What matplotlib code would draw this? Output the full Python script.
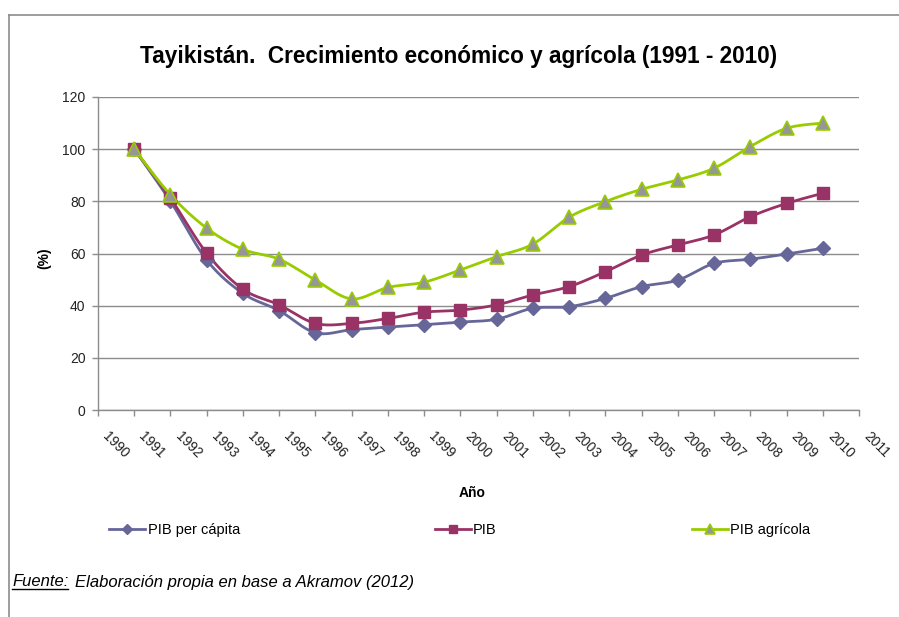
import numpy as np
import matplotlib
matplotlib.use("Agg")
import matplotlib.pyplot as plt
from matplotlib import font_manager
from matplotlib.lines import Line2D
from matplotlib.transforms import ScaledTranslation

years = [1991, 1992, 1993, 1994, 1995, 1996, 1997, 1998, 1999, 2000,
         2001, 2002, 2003, 2004, 2005, 2006, 2007, 2008, 2009, 2010]
pib_pc = [100, 80, 57.5, 44.7, 38.1, 29.6, 30.8, 31.8, 32.7, 33.7,
          34.8, 39.0, 39.6, 42.8, 47.3, 49.8, 56.2, 57.8, 59.8, 62.0]
pib = [100, 81.2, 60.1, 46.3, 40.3, 33.2, 33.2, 35.1, 37.5, 38.3,
       40.3, 44.1, 47.3, 53.0, 59.4, 63.3, 67.1, 74.1, 79.2, 83.1]
pib_agr = [100, 82.5, 69.7, 61.6, 57.8, 49.8, 42.6, 47.0, 49.0, 53.7,
           58.8, 63.6, 73.9, 79.9, 84.6, 88.2, 92.7, 101, 108, 110]
series_names = ["PIB per cápita", "PIB", "PIB agrícola"]
xtick_years = list(range(1990, 2012))
yticks = [0, 20, 40, 60, 80, 100, 120]

title = "Tayikistán.  Crecimiento económico y agrícola (1991 - 2010)"

names = {f.name for f in font_manager.fontManager.ttflist}
NARROW = "Liberation Sans Narrow" if "Liberation Sans Narrow" in names else "Liberation Sans"
SANS = "Liberation Sans"
plt.rcParams["font.family"] = [SANS, "DejaVu Sans"]

W, H, DPI = 899, 617, 100
fig = plt.figure(figsize=(W / DPI, H / DPI), dpi=DPI)

# outer chart border (top and left visible)
fig.add_artist(Line2D([9 / W, 9 / W], [0, 1 - 15 / H], color="#8c8c8c", lw=1.2))
fig.add_artist(Line2D([9 / W, 1], [1 - 15 / H, 1 - 15 / H], color="#8c8c8c", lw=1.2))

L, R, T, B = 98, 859, 97, 410
ax = fig.add_axes([L / W, 1 - B / H, (R - L) / W, (B - T) / H])


def smooth(x, y, n=30):
    x = np.asarray(x, float)
    y = np.asarray(y, float)
    xp = np.concatenate([[x[0]], x, [x[-1]]])
    yp = np.concatenate([[y[0]], y, [y[-1]]])
    xs, ys = [], []
    t = np.linspace(0, 1, n)
    for i in range(len(x) - 1):
        p0 = np.array([xp[i + 1], yp[i + 1]])
        p3 = np.array([xp[i + 2], yp[i + 2]])
        c1 = p0 + (np.array([xp[i + 2], yp[i + 2]]) - np.array([xp[i], yp[i]])) / 6
        c2 = p3 - (np.array([xp[i + 3], yp[i + 3]]) - np.array([xp[i + 1], yp[i + 1]])) / 6
        pts = ((1 - t) ** 3)[:, None] * p0 + (3 * (1 - t) ** 2 * t)[:, None] * c1 \
            + (3 * (1 - t) * t ** 2)[:, None] * c2 + (t ** 3)[:, None] * p3
        xs.append(pts[:, 0])
        ys.append(pts[:, 1])
    return np.concatenate(xs), np.concatenate(ys)


styles = [
    dict(color="#666699", marker="D", mfc="#666699", mec="#666699", ms=7.5),
    dict(color="#993366", marker="s", mfc="#993366", mec="#993366", ms=8.3),
    dict(color="#99CC00", marker="^", mfc="#969696", mec="#99CC00", ms=10, mew=1.2),
]
handles = []
for vals, st, name in zip([pib_pc, pib, pib_agr], styles, series_names):
    sx, sy = smooth(years, vals)
    ax.plot(sx, sy, color=st["color"], lw=2.0, zorder=3, solid_capstyle="round")
    ax.plot(years, vals, ls="none", marker=st["marker"], mfc=st["mfc"],
            mec=st["mec"], ms=st["ms"], mew=st.get("mew", 1.0), zorder=4)
    handles.append(Line2D([], [], color=st["color"], lw=2.0, marker=st["marker"],
                          mfc=st["mfc"], mec=st["mec"], ms=st["ms"] * 0.7,
                          mew=st.get("mew", 1.0), label=name))

ax.set_xlim(1990, 2011)
ax.set_ylim(0, 120)
ax.set_yticks(yticks)
ax.set_xticks(xtick_years)
ax.set_xticklabels([str(y) for y in xtick_years])
ax.grid(axis="y", color="#8c8c8c", lw=1.0)
ax.set_axisbelow(True)
for s in ["top", "right"]:
    ax.spines[s].set_visible(False)
for s in ["left", "bottom"]:
    ax.spines[s].set_color("#8c8c8c")
    ax.spines[s].set_linewidth(1.0)
ax.tick_params(axis="both", direction="out", length=4, width=1.0, color="#8c8c8c",
               labelsize=10, labelcolor="#222222")
ax.tick_params(axis="y", pad=5)
ax.tick_params(axis="x", pad=10)
for lbl in ax.get_xticklabels():
    lbl.set_rotation(-45)
    lbl.set_ha("left")
    lbl.set_va("top")
    lbl.set_rotation_mode("anchor")
    lbl.set_transform(lbl.get_transform() + ScaledTranslation(12 / DPI, 0, fig.dpi_scale_trans))

fig.text(459 / W, 1 - 56 / H, title, ha="center", va="center",
         fontsize=16.3, fontweight="bold", family=[NARROW, "DejaVu Sans"])
fig.text(44 / W, 1 - 258 / H, "(%)", rotation=90, ha="center", va="center",
         fontsize=10, fontweight="bold")
fig.text(472 / W, 1 - 493 / H, "Año", ha="center", va="center",
         fontsize=10, fontweight="bold")

leg = fig.legend(handles=handles, ncol=3, loc="center left",
                 bbox_to_anchor=(109 / W, 1 - 530 / H), frameon=False,
                 prop={"family": [NARROW, "DejaVu Sans"], "size": 10.5},
                 handlelength=2.5, handletextpad=0.15, columnspacing=13.35,
                 borderpad=0, borderaxespad=0)

t1 = fig.text(12 / W, 1 - 582 / H, "Fuente:", ha="left", va="center",
              fontsize=12, style="italic", family=[NARROW, "DejaVu Sans"])
fig.canvas.draw()
bb = t1.get_window_extent()
fig.add_artist(Line2D([bb.x0 / W, bb.x1 / W], [(bb.y0 + 1) / H, (bb.y0 + 1) / H],
                      color="black", lw=1.0))
fig.text(bb.x1 / W + 7 / W, 1 - 582 / H, "Elaboración propia en base a Akramov (2012)",
         ha="left", va="center", fontsize=12, style="italic",
         family=[NARROW, "DejaVu Sans"])

fig.savefig("out.png", dpi=DPI)
